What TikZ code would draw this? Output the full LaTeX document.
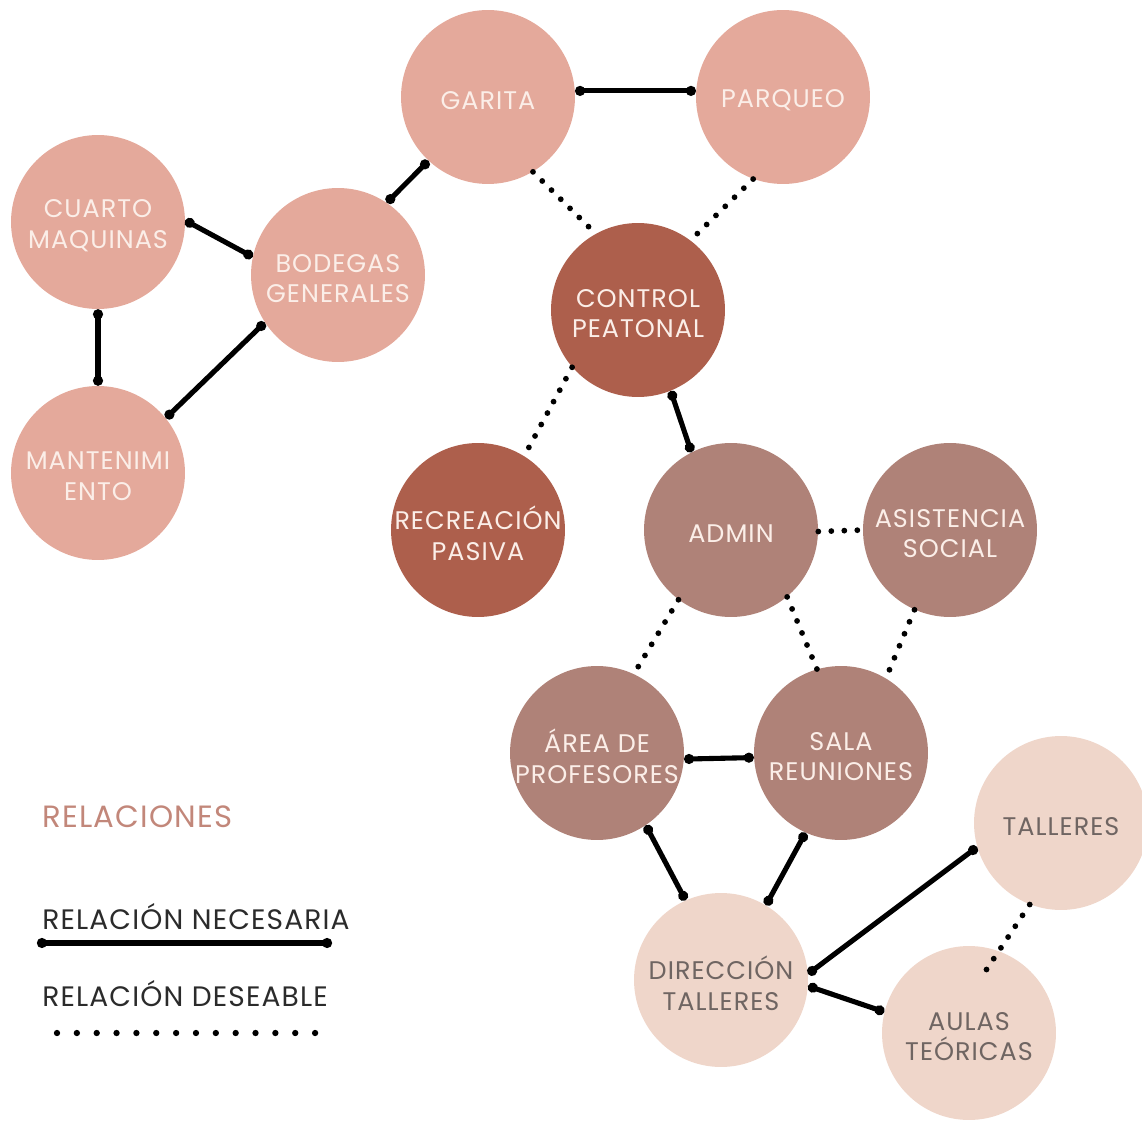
\documentclass[tikz,border=0pt]{standalone}
\usepackage{fontspec}
\setmainfont{Poppins}[LetterSpace=4]
\usetikzlibrary{
  arrows.meta,
  calc
}
\definecolor{hubPink}{HTML}{E4A99B}
\definecolor{hubRust}{HTML}{AD5F4C}
\definecolor{hubMauve}{HTML}{AF8278}
\definecolor{hubPale}{HTML}{EFD6CA}
\definecolor{textCream}{HTML}{FBEEE8}
\definecolor{textGrey}{HTML}{6F6562}
\definecolor{titleSalmon}{HTML}{C2877A}
\definecolor{legendInk}{HTML}{2B2B2B}
\tikzset{
  hub/.style={
    circle, inner sep=0pt, minimum size=3.48cm, draw=none
  },
  hubText/.style={
    font=\fontsize{14.5}{17.5}\selectfont, align=center, text=textCream,
    yshift=-2pt
  },
  pinkHub/.style={hub, fill=hubPink, label={[hubText]center:#1}},
  rustHub/.style={hub, fill=hubRust, label={[hubText]center:#1}},
  mauveHub/.style={hub, fill=hubMauve, label={[hubText]center:#1}},
  paleHub/.style={
    hub, fill=hubPale, label={[hubText, text=textGrey]center:#1}
  },
  need/.style={
    draw=black, line width=2.9pt, {Circle[length=5.6pt]}-{Circle[length=5.6pt]}
  },
  wish/.style={
    draw=black, line width=3.3pt, line cap=round,
    dash pattern=on 0pt off 7.4pt
  },
  legendText/.style={
    anchor=base west, font=\fontsize{16}{19}\selectfont, text=legendInk,
    inner sep=0pt
  }
}

\begin{document}
\begin{tikzpicture}[x=0.02cm, y=-0.02cm]
\useasboundingbox (0,0) rectangle (1142,1121);

% ── UPPER GROUP ────────────────────────────────────────────────────
\node[pinkHub=GARITA]  (GA) at (488,97)  {};
\node[pinkHub=PARQUEO] (PQ) at (783,97)  {};
\node[pinkHub={CUARTO\\MAQUINAS}]   (CM) at (98,222)  {};
\node[pinkHub={BODEGAS\\GENERALES}] (BG) at (338,275) {};
\node[pinkHub={MANTENIMI\\ENTO}]    (MT) at (98,473)  {};

% ── CONTROL + ADMIN ────────────────────────────────────────────────
\node[rustHub={CONTROL\\PEATONAL}]   (CP) at (638,310) {};
\node[rustHub={RECREACIÓN\\PASIVA}]  (RP) at (478,530) {};
\node[mauveHub=ADMIN]                (AD) at (731,530) {};
\node[mauveHub={ASISTENCIA\\SOCIAL}] (AS) at (950,530) {};
\node[mauveHub={ÁREA DE\\PROFESORES}] (AP) at (597,753) {};
\node[mauveHub={SALA\\REUNIONES}]    (SR) at (841,753) {};

% ── WORKSHOPS ──────────────────────────────────────────────────────
\node[paleHub=TALLERES]               (TA) at (1061,823) {};
\node[paleHub={DIRECCIÓN\\TALLERES}]  (DT) at (721,980)  {};
\node[paleHub={AULAS\\TEÓRICAS}]      (AT) at (969,1033) {};

% ── EDGES ───────────────────────────────────────────────────────────
% necessary
\draw[need] (GA.4)    -- (PQ.176);
\draw[need] (GA.-133) -- (BG.56);
\draw[need] (CM.1)    -- (BG.168);
\draw[need] (CM.-90)  -- (MT.90);
\draw[need] (BG.213)  -- (MT.39);
\draw[need] (CP.-68)  -- (AD.117);
\draw[need] (AP.-4)   -- (SR.183);
\draw[need] (AP.-56)  -- (DT.114);
\draw[need] (SR.246)  -- (DT.59);
\draw[need] (TA.196)  -- (DT.4);
\draw[need] (DT.-4)   -- (AT.166);

% desirable
\draw[wish] (GA.-59)  -- (CP.119);
\draw[wish] (PQ.-110) -- (CP.53);
\draw[wish] (CP.221)  -- (RP.58);
\draw[wish] (AD.-1)   -- (AS.180);
\draw[wish] (AD.-127) -- (AP.65);
\draw[wish] (AD.-50)  -- (SR.106);
\draw[wish] (AS.246)  -- (SR.59);
\draw[wish, shorten >=-13pt] (TA.249) -- (AT.70);

% ── LEGEND ──────────────────────────────────────────────────────────
\node[legendText, text=titleSalmon, font=\fontsize{17.5}{20}\selectfont]
  (LT) at (42,827) {RELACIONES};
\node[legendText] (LN) at (42,929)  {RELACIÓN NECESARIA};
\node[legendText] (LD) at (42,1006) {RELACIÓN DESEABLE};
\coordinate (n1) at (37,943);
\coordinate (n2) at (332,943);
\coordinate (d1) at (57,1033);
\coordinate (d2) at (320,1033);
\draw[need] (n1) -- (n2);
\draw[wish, line width=3.6pt, dash pattern=on 0pt off 11.3pt] (d1) -- (d2);

\end{tikzpicture}
\end{document}
